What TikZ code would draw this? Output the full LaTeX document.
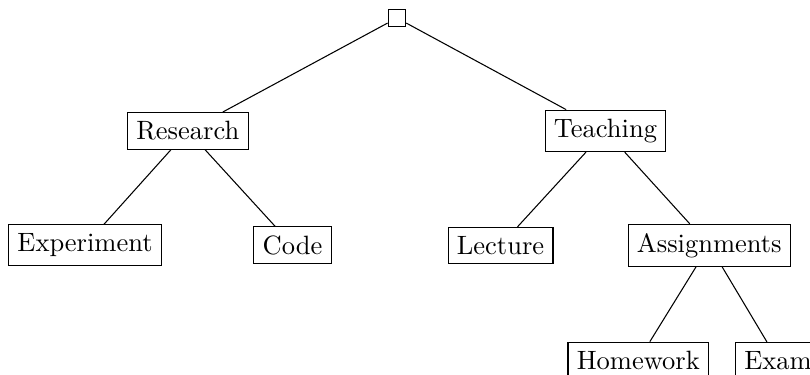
\documentclass[tikz,border=0pt]{standalone}
\begin{document}
\begin{tikzpicture}[x=1pt,y=1pt,
  box/.style={draw, rectangle}]
\useasboundingbox (0,0) rectangle (305.7,-141.5);
\clip (0,0) rectangle (305.7,-141.5);
\node[box] (root) at (149.8,-6.8) {};
\node[box] (research) at (70.9,-49.4) {Research};
\node[box] (teaching) at (228.5,-49.4) {Teaching};
\node[box] (experiment) at (32.1,-92.6) {Experiment};
\node[box] (code) at (110.4,-92.6) {Code};
\node[box] (lecture) at (188.9,-92.6) {Lecture};
\node[box] (assignments) at (267.7,-92.6) {Assignments};
\node[box] (homework) at (240.9,-136.0) {Homework};
\node[box] (exam) at (293.6,-136.0) {Exam};
\draw (root) -- (research);
\draw (root) -- (teaching);
\draw (research) -- (experiment);
\draw (research) -- (code);
\draw (teaching) -- (lecture);
\draw (teaching) -- (assignments);
\draw (assignments) -- (homework);
\draw (assignments) -- (exam);
\end{tikzpicture}
\end{document}
